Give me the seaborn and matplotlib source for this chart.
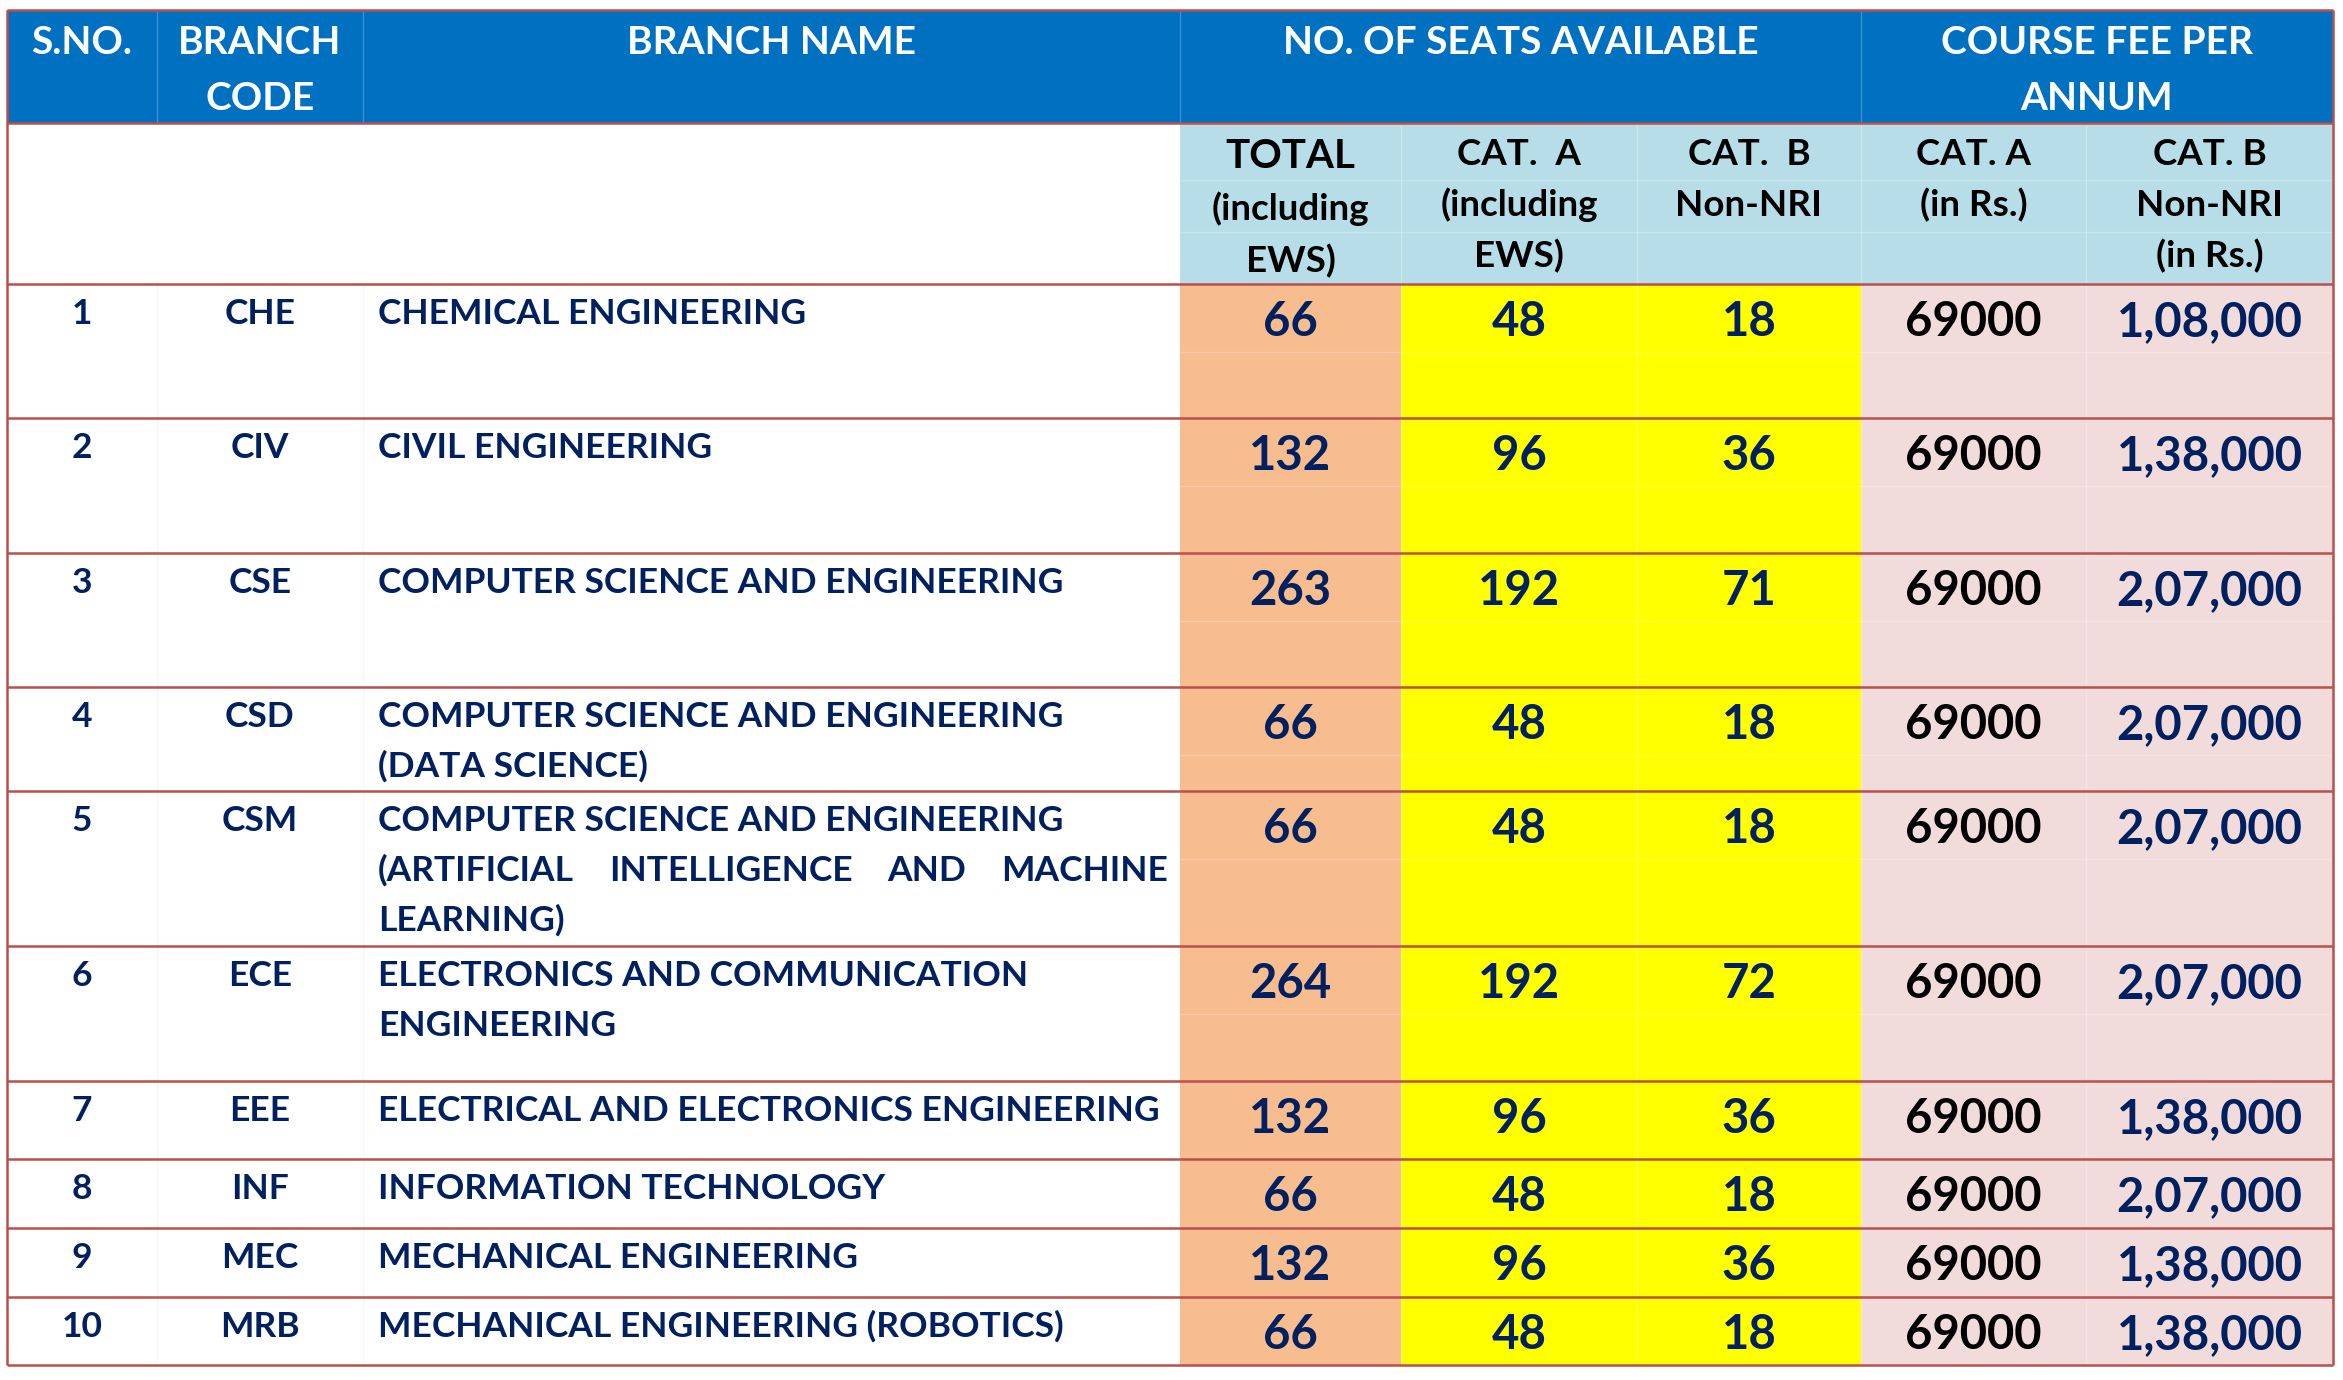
import matplotlib
matplotlib.use('Agg')
import matplotlib.pyplot as plt
import seaborn as sns

sns.set_theme(style='white')
plt.rcParams['font.family'] = ['Lato', 'DejaVu Sans']

# Datos de la tabla
sno = ['1', '2', '3', '4', '5', '6', '7', '8', '9', '10']
codes = ['CHE', 'CIV', 'CSE', 'CSD', 'CSM', 'ECE', 'EEE', 'INF', 'MEC', 'MRB']
names = [
    ['CHEMICAL ENGINEERING'],
    ['CIVIL ENGINEERING'],
    ['COMPUTER SCIENCE AND ENGINEERING'],
    ['COMPUTER SCIENCE AND ENGINEERING', '(DATA SCIENCE)'],
    ['COMPUTER SCIENCE AND ENGINEERING',
     '(ARTIFICIAL INTELLIGENCE AND MACHINE', 'LEARNING)'],
    ['ELECTRONICS AND COMMUNICATION', 'ENGINEERING'],
    ['ELECTRICAL AND ELECTRONICS ENGINEERING'],
    ['INFORMATION TECHNOLOGY'],
    ['MECHANICAL ENGINEERING'],
    ['MECHANICAL ENGINEERING (ROBOTICS)'],
]
seats_total = [66, 132, 263, 66, 66, 264, 132, 66, 132, 66]
seats_cat_a = [48, 96, 192, 48, 48, 192, 96, 48, 96, 48]
seats_cat_b = [18, 36, 71, 18, 18, 72, 36, 18, 36, 18]
fee_cat_a = [69000, 69000, 69000, 69000, 69000, 69000, 69000, 69000, 69000, 69000]
fee_cat_b = [108000, 138000, 207000, 207000, 207000, 207000, 138000, 207000,
             138000, 138000]

top_headers = ['S.NO.', ['BRANCH', 'CODE'], 'BRANCH NAME',
               'NO. OF SEATS AVAILABLE', ['COURSE FEE PER', 'ANNUM']]
sub_headers = [['TOTAL', '(including', 'EWS)'],
               ['CAT.  A', '(including', 'EWS)'],
               ['CAT.  B', 'Non-NRI'],
               ['CAT. A', '(in Rs.)'],
               ['CAT. B', 'Non-NRI', '(in Rs.)']]

# Colores
BLUE = '#0070C0'
LIGHT_BLUE = '#B7DEE8'
PEACH = '#F8BD8F'
YELLOW = '#FFFF00'
PINK = '#F2DCDB'
NAVY = '#002060'
RED = '#B9504C'

# Layout en pixeles
col_edges = [7, 157, 363, 1180, 1401, 1637, 1861, 2086, 2333]
y_top, y_blue, y_sub = 10, 123, 284
row_heights = [134, 135, 134, 104, 155, 135, 78, 69, 69, 68]
justified = {(4, 1)}


def inr(v):
    # formato indio: 1,08,000
    s = str(v)
    if len(s) <= 3:
        return s
    head, tail = s[:-3], s[-3:]
    groups = []
    while len(head) > 2:
        groups.insert(0, head[-2:])
        head = head[:-2]
    if head:
        groups.insert(0, head)
    return ','.join(groups) + ',' + tail


row_tops = [y_sub]
for h in row_heights:
    row_tops.append(row_tops[-1] + h)
y_end = row_tops[-1]
row_tops = row_tops[:-1]

fig = plt.figure(figsize=(23.43, 13.8), dpi=100)
ax = fig.add_axes([0, 0, 1, 1])
ax.set_xlim(0, 2343)
ax.set_ylim(1380, 0)
ax.axis('off')

# Fondo de encabezados
ax.bar(col_edges[0], y_blue - y_top, width=col_edges[-1] - col_edges[0],
       bottom=y_top, align='edge', color=BLUE, linewidth=0)
sub_left = col_edges[3:8]
sub_w = [col_edges[i + 1] - col_edges[i] for i in range(3, 8)]
ax.bar(sub_left, y_sub - y_blue, width=sub_w, bottom=y_blue, align='edge',
       color=LIGHT_BLUE, linewidth=0)

# Columnas de datos coloreadas
fills = [PEACH, YELLOW, YELLOW, PINK, PINK]
for j in range(5):
    ax.bar([sub_left[j]] * len(row_tops), row_heights, width=sub_w[j],
           bottom=row_tops, align='edge', color=fills[j], linewidth=0)

# Lineas tenues internas
for t, h in zip(row_tops, row_heights):
    if h > 100:
        ax.hlines(t + 68, col_edges[3], col_edges[-1], color='white',
                  alpha=0.2, lw=1)
ax.hlines([180, 232], col_edges[3], col_edges[-1], color='white', alpha=0.2,
          lw=1)
ax.vlines(col_edges[4:8], y_blue, y_end, color='white', alpha=0.25, lw=1)
ax.vlines(col_edges[1:3], y_sub, y_end, color='#F6F6F6', lw=1)
ax.vlines([col_edges[1], col_edges[2], col_edges[3], col_edges[6]], y_top,
          y_blue, color='#3F8DD2', lw=1)

# Bordes rojos
ax.hlines([y_top, y_blue, y_sub] + row_tops[1:] + [y_end], col_edges[0],
          col_edges[-1], color=RED, lw=1.8)
ax.vlines([col_edges[0], col_edges[-1]], y_top, y_end, color=RED, lw=1.8)

# Texto del encabezado
hdr_x = [(col_edges[0] + col_edges[1]) / 2, (col_edges[1] + col_edges[2]) / 2,
         (col_edges[2] + col_edges[3]) / 2, (col_edges[3] + col_edges[6]) / 2,
         (col_edges[6] + col_edges[8]) / 2]
for x, lab in zip(hdr_x, top_headers):
    lines = lab if isinstance(lab, list) else [lab]
    for k, line in enumerate(lines):
        ax.text(x, 54 + 56 * k, line, ha='center', va='baseline',
                fontsize=28, weight='bold', color='white')

for j, lab in enumerate(sub_headers):
    x = sub_left[j] + sub_w[j] / 2
    for k, line in enumerate(lab):
        if j == 0:
            y = 168 + 52 * k
            fs = 29 if k == 0 else 26.5
        else:
            y = 165 + 51 * k
            fs = 26.5
        ax.text(x, y, line, ha='center', va='baseline', fontsize=fs,
                weight='bold', color='black')

# Filas de datos
renderer = fig.canvas.get_renderer()
name_left, name_right = 378, 1168
cols = [seats_total, seats_cat_a, seats_cat_b, fee_cat_a, fee_cat_b]
num_colors = [NAVY, NAVY, NAVY, 'black', NAVY]
for i, top in enumerate(row_tops):
    ax.text(hdr_x[0], top + 40, sno[i], ha='center', va='baseline',
            fontsize=25.5, weight='bold', color=NAVY)
    ax.text(hdr_x[1], top + 40, codes[i], ha='center', va='baseline',
            fontsize=25.5, weight='bold', color=NAVY)
    for k, line in enumerate(names[i]):
        y = top + 40 + 50 * k
        if (i, k) in justified:
            words = line.split()
            texts = [ax.text(0, y, w, ha='left', va='baseline', fontsize=25.5,
                             weight='bold', color=NAVY) for w in words]
            widths = [t.get_window_extent(renderer=renderer).width
                      for t in texts]
            gap = (name_right - name_left - sum(widths)) / (len(words) - 1)
            x = name_left
            for t, w in zip(texts, widths):
                t.set_x(x)
                x += w + gap
        else:
            ax.text(name_left, y, line, ha='left', va='baseline',
                    fontsize=25.5, weight='bold', color=NAVY)
    for j in range(5):
        val = cols[j][i]
        txt = inr(val) if j == 4 else str(val)
        ax.text(sub_left[j] + sub_w[j] / 2, top + 52, txt, ha='center',
                va='baseline', fontsize=34, weight='bold', color=num_colors[j])

fig.savefig('out.png', dpi=100, facecolor='white')
